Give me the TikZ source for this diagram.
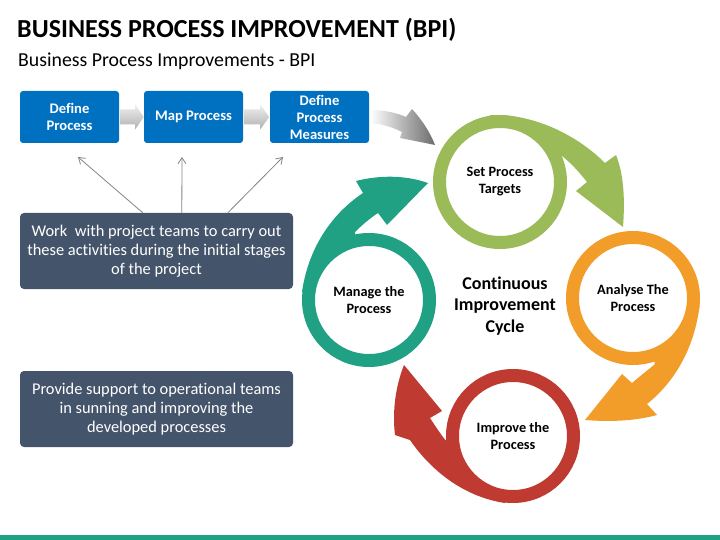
\documentclass[tikz,border=0pt]{standalone}
\usepackage{fontspec}
\setmainfont[Ligatures=NoCommon]{Carlito}
\usetikzlibrary{arrows.meta,calc}
\definecolor{bpblue}{HTML}{0070C0}
\definecolor{bpdark}{HTML}{44546A}
\definecolor{cgreen}{HTML}{9BBB59}
\definecolor{corange}{HTML}{F29D2A}
\definecolor{cred}{HTML}{BF3A30}
\definecolor{cteal}{HTML}{21A184}
\definecolor{thingray}{HTML}{858585}
\begin{document}
\begin{tikzpicture}[x=1pt,y=-1pt,
  bluebox/.style={draw=none,fill=bpblue,rounded corners=3pt,minimum width=99pt,minimum height=52pt,
    inner sep=0pt,align=center,text=white,font=\bfseries\fontsize{14.6}{17}\selectfont},
  darkbox/.style={draw=none,fill=bpdark,rounded corners=4pt,minimum width=273pt,minimum height=76pt,
    inner sep=0pt,align=center,text=white,font=\fontsize{16.4}{18.8}\selectfont},
  ring/.style={circle,draw=#1,line width=13pt,fill=white,minimum size=121pt,inner sep=0pt,
    align=center,text=black,font=\bfseries\fontsize{14.3}{17}\selectfont},
  thinarrow/.style={draw=thingray,line width=0.8pt,-{Straight Barb[length=6pt,width=8pt]}},
  blockshade/.style={top color=gray!12,bottom color=gray!62,draw=none}
]
\useasboundingbox (0,0) rectangle (720,540);
\fill[white] (0,0) rectangle (720,540);

% titles
\node[anchor=base west,inner sep=0pt,font=\bfseries\fontsize{26}{30}\selectfont] (title) at (17,37.7)
  {BUSINESS PROCESS IMPROVEMENT (BPI)};
\node[anchor=base west,inner sep=0pt,font=\fontsize{19.8}{23}\selectfont] (subtitle) at (18,66.5)
  {Business Process Improvements - BPI};

% blue boxes
\node[bluebox] (b1) at (69.5,117) {Define\\Process};
\node[bluebox] (b2) at (193.5,117) {Map Process};
\node[bluebox] (b3) at (319.5,117) {Define\\Process\\Measures};

% block arrows between boxes
\shade[blockshade] ($(b1.east)+(1,-7.5)$) -- ($(b1.east)+(16,-7.5)$) -- ($(b1.east)+(16,-12.5)$)
  -- ($(b1.east)+(24.5,0)$) -- ($(b1.east)+(16,12.5)$) -- ($(b1.east)+(16,7.5)$)
  -- ($(b1.east)+(1,7.5)$) -- cycle;
\shade[blockshade] ($(b2.east)+(1,-7.5)$) -- ($(b2.east)+(17,-7.5)$) -- ($(b2.east)+(17,-12.5)$)
  -- ($(b2.east)+(26,0)$) -- ($(b2.east)+(17,12.5)$) -- ($(b2.east)+(17,7.5)$)
  -- ($(b2.east)+(1,7.5)$) -- cycle;

% dark boxes
\node[darkbox] (d1) at (156.5,251) {Work\ \ with project teams to carry out\\these activities during the initial stages\\of the project};
\node[darkbox] (d2) at (156.5,409) {Provide support to operational teams\\in sunning and improving the\\developed processes};

% thin arrows
\coordinate (s1) at ($(d1.north west)+(123,0)$);
\coordinate (s2) at ($(d1.north west)+(162,0)$);
\coordinate (s3) at ($(d1.north west)+(208,0)$);
\coordinate (t1) at (78,157);
\coordinate (t2) at (182,157);
\coordinate (t3) at (283,157);
\draw[thinarrow] (s1) -- (t1);
\draw[thinarrow] (s2) -- (t2);
\draw[thinarrow] (s3) -- (t3);

% gray curved arrow into the cycle
\shade[left color=white,right color=black!58,draw=none]
  ($(b3.east)+(1,-7)$) .. controls (385,110) and (397,113) .. (406,117) -- (412,109)
  .. controls (422,120) and (430,132) .. (435,145) -- (400,138) -- (402,132)
  .. controls (392,127) and (382,124) .. ($(b3.east)+(1,6)$) -- cycle;

% cycle arrows
\fill[cgreen] (490,115.2) .. controls (530,113) and (575,133) .. (605,163) -- (616,155)
  .. controls (624,175) and (625,200) .. (623,227) -- (576,191) -- (587,182)
  .. controls (579,172) and (571,163) .. (562,156) -- (555.6,159.5) -- (530,130) -- (500,122) -- (489.6,123) -- cycle;
\fill[corange] (699.6,305) .. controls (695,345) and (677,380) .. (647,404) -- (657,415)
  .. controls (635,421) and (610,422) .. (585,420) -- (622,374) -- (632,383)
  .. controls (640,376) and (648,370) .. (655,364) -- (652.5,354.7) -- (679,336.6) -- (692,308.4) -- cycle;
\fill[cred] (505,503) .. controls (465,497) and (432,472) .. (410,440) -- (395,435)
  .. controls (392,410) and (396,385) .. (404,365) -- (442,411) -- (430,418)
  .. controls (436,427) and (441,435) .. (447,442) -- (453,441) -- (467,474.6) -- (497.5,494) -- (507.8,495.8) -- cycle;
\fill[cteal] (302,292) .. controls (308,250) and (330,215) .. (363,193) -- (356,181)
  .. controls (380,175) and (405,175) .. (428,183) -- (387,225) -- (378,213)
  .. controls (369,219) and (361,226) .. (355,232) -- (356.5,241.3) -- (330.4,254) -- (312.6,279.5) -- (309.2,294.8) -- cycle;

% rings
\node[ring=cgreen] (c1) at (500,182) {Set Process\\Targets};
\node[ring=corange] (c2) at (633,298) {Analyse The\\Process};
\node[ring=cred] (c3) at (513,436) {Improve the\\Process};
\node[ring=cteal] (c4) at (369,300) {Manage the\\Process};

\node[align=center,inner sep=0pt,font=\bfseries\fontsize{18}{21.5}\selectfont] (center) at (505,306)
  {Continuous\\Improvement\\Cycle};

% bottom band
\fill[cteal] (0,535) rectangle (720,540);
\end{tikzpicture}
\end{document}
